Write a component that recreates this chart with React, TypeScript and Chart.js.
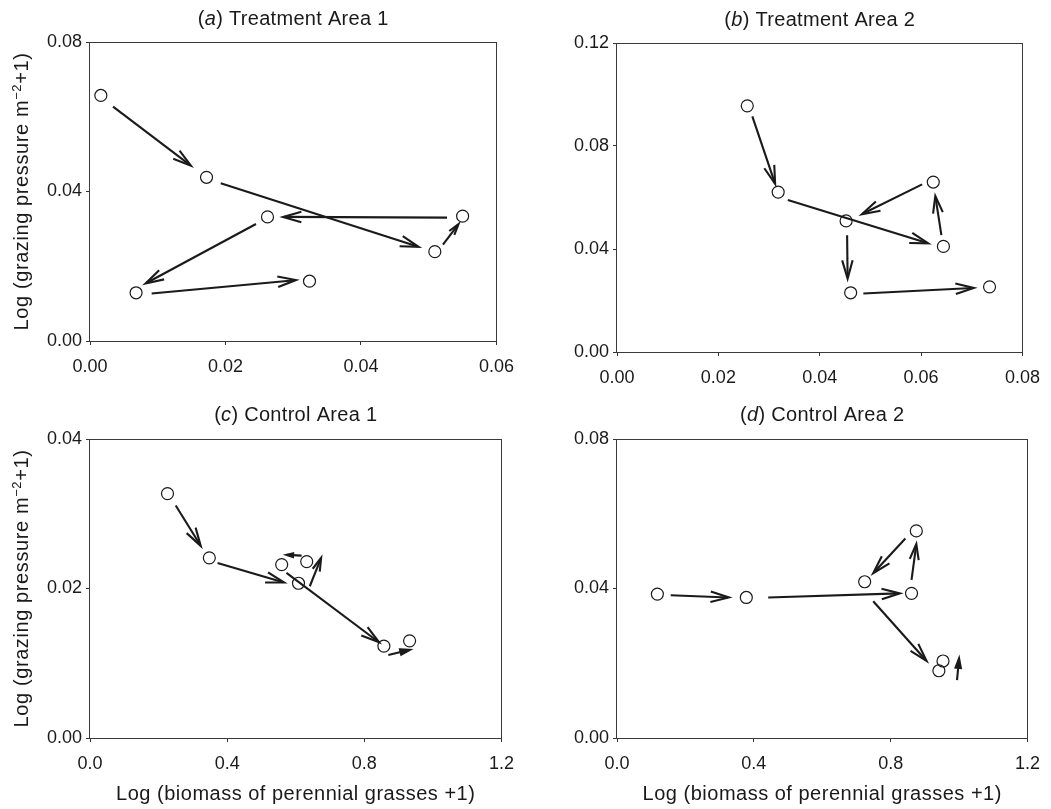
import React, { useEffect, useRef } from "react";
import { Chart, registerables } from "chart.js";

Chart.register(...registerables);

// ---------- Data ----------
// (a) Treatment Area 1
const aPointsX = [0.0016, 0.0172, 0.0509, 0.055, 0.0262, 0.0068, 0.0324];
const aPointsY = [0.0657, 0.0438, 0.0239, 0.0334, 0.0332, 0.0129, 0.016];
const aArrows = [
  [0.0034, 0.0627, 0.0149, 0.0469],
  [0.0193, 0.0422, 0.0485, 0.0252],
  [0.0521, 0.0258, 0.0544, 0.0313],
  [0.0527, 0.033, 0.0285, 0.0332],
  [0.0245, 0.0313, 0.0082, 0.0154],
  [0.0091, 0.0127, 0.0304, 0.0163],
];
const aXTicks = [0, 0.02, 0.04, 0.06];
const aYTicks = [0, 0.04, 0.08];

// (b) Treatment Area 2
const bPointsX = [0.0257, 0.0318, 0.0452, 0.0644, 0.0624, 0.0461, 0.0735];
const bPointsY = [0.0956, 0.0621, 0.0509, 0.041, 0.066, 0.023, 0.0253];
const bArrows = [
  [0.0267, 0.0915, 0.0312, 0.0653],
  [0.0337, 0.059, 0.0614, 0.0422],
  [0.064, 0.0454, 0.0628, 0.0606],
  [0.0602, 0.0651, 0.0483, 0.0535],
  [0.0454, 0.0453, 0.0455, 0.0285],
  [0.0486, 0.0227, 0.0704, 0.0249],
];
const bXTicks = [0, 0.02, 0.04, 0.06, 0.08];
const bYTicks = [0, 0.04, 0.08, 0.12];

// (c) Control Area 1
const cPointsX = [0.226, 0.348, 0.559, 0.632, 0.608, 0.857, 0.932];
const cPointsY = [0.0327, 0.0241, 0.0232, 0.0236, 0.0207, 0.0123, 0.013];
const cArrows = [
  [0.25, 0.0311, 0.323, 0.0257],
  [0.372, 0.0234, 0.566, 0.0208],
  [0.641, 0.0203, 0.674, 0.0241],
  [0.617, 0.0244, 0.573, 0.0245],
  [0.573, 0.0221, 0.843, 0.0128],
  [0.87, 0.0111, 0.933, 0.0118],
];
const cXTicks = [0, 0.4, 0.8, 1.2];
const cYTicks = [0, 0.02, 0.04];

// (d) Control Area 2
const dPointsX = [0.118, 0.378, 0.724, 0.861, 0.875, 0.941, 0.953];
const dPointsY = [0.0385, 0.0376, 0.0418, 0.0387, 0.0554, 0.018, 0.0206];
const dArrows = [
  [0.157, 0.0382, 0.327, 0.0376],
  [0.442, 0.0376, 0.827, 0.0387],
  [0.861, 0.0423, 0.875, 0.0519],
  [0.843, 0.0534, 0.749, 0.0441],
  [0.749, 0.0366, 0.905, 0.0206],
  [0.994, 0.0155, 1.0, 0.0213],
];
const dXTicks = [0, 0.4, 0.8, 1.2];
const dYTicks = [0, 0.04, 0.08];

const xAxisTitle = "Log (biomass of perennial grasses +1)";
const yAxisTitleMain = "Log (grazing pressure m";
const yAxisTitleSup = "\u22122";
const yAxisTitleEnd = "+1)";

// ---------- Style ----------
const FONT = "'Liberation Sans', Arial, Helvetica, sans-serif";
const INK = "#1a1a1a";

type PanelProps = {
  left: number;
  top: number;
  width: number;
  height: number;
  area: { left: number; top: number; right: number; bottom: number };
  letter: string;
  titleRest: string;
  titleBaseline: number;
  xs: number[];
  ys: number[];
  arrows: number[][];
  xTicks: number[];
  yTicks: number[];
  xDec: number;
  yDec: number;
  showXTitle: boolean;
  showYTitle: boolean;
};

function drawArrow(ctx: CanvasRenderingContext2D, x1: number, y1: number, x2: number, y2: number) {
  const dx = x2 - x1;
  const dy = y2 - y1;
  const len = Math.hypot(dx, dy);
  const ux = dx / len;
  const uy = dy / len;
  const head = Math.min(19, len * 0.45);
  const ang = (16 * Math.PI) / 180;
  const cos = Math.cos(ang);
  const sin = Math.sin(ang);
  // back direction rotated
  const bx = -ux;
  const by = -uy;
  const a1x = x2 + head * (bx * cos - by * sin);
  const a1y = y2 + head * (bx * sin + by * cos);
  const a2x = x2 + head * (bx * cos + by * sin);
  const a2y = y2 + head * (-bx * sin + by * cos);
  ctx.beginPath();
  ctx.moveTo(x1, y1);
  ctx.lineTo(x2 - ux * 1, y2 - uy * 1);
  ctx.stroke();
  ctx.beginPath();
  ctx.moveTo(a1x, a1y);
  ctx.lineTo(x2, y2);
  ctx.lineTo(a2x, a2y);
  if (len < 24) {
    ctx.closePath();
    ctx.fill();
  }
  ctx.stroke();
}

function Panel(p: PanelProps) {
  const ref = useRef<HTMLCanvasElement>(null);
  useEffect(() => {
    if (!ref.current) return;

    const framePlugin = {
      id: "frame",
      afterDraw(chart: any) {
        const { ctx, chartArea } = chart;
        ctx.save();
        ctx.strokeStyle = "#3a3a3a";
        ctx.lineWidth = 1;
        ctx.strokeRect(
          Math.round(chartArea.left) - 0.5,
          Math.round(chartArea.top) + 0.5,
          Math.round(chartArea.right - chartArea.left) + 1,
          Math.round(chartArea.bottom - chartArea.top)
        );
        ctx.restore();
      },
    };

    const arrowPlugin = {
      id: "arrows",
      afterDatasetsDraw(chart: any) {
        const { ctx } = chart;
        const sx = chart.scales.x;
        const sy = chart.scales.y;
        ctx.save();
        ctx.strokeStyle = INK;
        ctx.fillStyle = INK;
        ctx.lineWidth = 2.1;
        ctx.lineCap = "butt";
        ctx.lineJoin = "miter";
        ctx.miterLimit = 10;
        for (const a of p.arrows) {
          drawArrow(
            ctx,
            sx.getPixelForValue(a[0]),
            sy.getPixelForValue(a[1]),
            sx.getPixelForValue(a[2]),
            sy.getPixelForValue(a[3])
          );
        }
        ctx.restore();
      },
    };

    const textPlugin = {
      id: "texts",
      afterDraw(chart: any) {
        const { ctx, chartArea } = chart;
        const cx = (chartArea.left + chartArea.right) / 2;
        ctx.save();
        ctx.fillStyle = INK;
        ctx.textBaseline = "alphabetic";
        ctx.textAlign = "left";
        // panel title with italic letter
        const normal = `20px ${FONT}`;
        const italic = `italic 20px ${FONT}`;
        (ctx as any).letterSpacing = "0.3px";
        ctx.font = normal;
        const w1 = ctx.measureText("(").width;
        ctx.font = italic;
        const w2 = ctx.measureText(p.letter).width;
        ctx.font = normal;
        const w3 = ctx.measureText(p.titleRest).width;
        let x = cx - (w1 + w2 + w3) / 2;
        ctx.fillText("(", x, p.titleBaseline);
        x += w1;
        ctx.font = italic;
        ctx.fillText(p.letter, x, p.titleBaseline);
        x += w2;
        ctx.font = normal;
        ctx.fillText(p.titleRest, x, p.titleBaseline);

        if (p.showXTitle) {
          (ctx as any).letterSpacing = "0.5px";
          ctx.font = normal;
          ctx.textAlign = "center";
          ctx.fillText(xAxisTitle, cx, 400);
          ctx.textAlign = "left";
        }
        if (p.showYTitle) {
          const cy = (chartArea.top + chartArea.bottom) / 2;
          ctx.translate(28, cy);
          ctx.rotate(-Math.PI / 2);
          (ctx as any).letterSpacing = "0.6px";
          const sup = `13px ${FONT}`;
          ctx.font = normal;
          const m1 = ctx.measureText(yAxisTitleMain).width;
          ctx.font = sup;
          const m2 = ctx.measureText(yAxisTitleSup).width;
          ctx.font = normal;
          const m3 = ctx.measureText(yAxisTitleEnd).width;
          let tx = -(m1 + m2 + m3) / 2;
          ctx.fillText(yAxisTitleMain, tx, 0);
          tx += m1;
          ctx.font = sup;
          ctx.fillText(yAxisTitleSup, tx, -7);
          tx += m2;
          ctx.font = normal;
          ctx.fillText(yAxisTitleEnd, tx, 0);
        }
        ctx.restore();
      },
    };

    const chart = new Chart(ref.current, {
      type: "scatter",
      data: {
        datasets: [
          {
            data: p.xs.map((x, i) => ({ x, y: p.ys[i] })),
            pointRadius: 6,
            pointHoverRadius: 6,
            pointBorderWidth: 1.2,
            pointBorderColor: INK,
            pointBackgroundColor: "rgba(255,255,255,0)",
            showLine: false,
          },
        ],
      },
      options: {
        responsive: false,
        animation: false,
        events: [],
        layout: {
          padding: {
            left: 0,
            top: p.area.top,
            right: p.width - p.area.right,
            bottom: 0,
          },
        },
        plugins: {
          legend: { display: false },
          tooltip: { enabled: false },
          title: { display: false },
        },
        scales: {
          x: {
            type: "linear",
            min: p.xTicks[0],
            max: p.xTicks[p.xTicks.length - 1],
            afterBuildTicks: (s: any) => {
              s.ticks = p.xTicks.map((v) => ({ value: v }));
            },
            afterFit: (s: any) => {
              s.height = p.height - p.area.bottom;
            },
            ticks: {
              callback: (v: any) => Number(v).toFixed(p.xDec),
              color: INK,
              font: { family: FONT, size: 18 },
              padding: 11,
              maxRotation: 0,
              autoSkip: false,
            },
            grid: { drawOnChartArea: false, tickLength: 4, color: "#333" },
            border: { display: false },
          },
          y: {
            type: "linear",
            min: p.yTicks[0],
            max: p.yTicks[p.yTicks.length - 1],
            afterBuildTicks: (s: any) => {
              s.ticks = p.yTicks.map((v) => ({ value: v }));
            },
            afterFit: (s: any) => {
              s.width = p.area.left;
            },
            ticks: {
              callback: (v: any) => Number(v).toFixed(p.yDec),
              color: INK,
              font: { family: FONT, size: 18 },
              padding: 4,
              autoSkip: false,
            },
            grid: { drawOnChartArea: false, tickLength: 4, color: "#333" },
            border: { display: false },
          },
        },
      } as any,
      plugins: [framePlugin, arrowPlugin, textPlugin],
    });
    return () => chart.destroy();
  }, []);

  return (
    <canvas
      ref={ref}
      width={p.width}
      height={p.height}
      style={{ position: "absolute", left: p.left, top: p.top, width: p.width, height: p.height }}
    />
  );
}

export default function App() {
  return (
    <div style={{ position: "absolute", left: 0, top: 0, width: 1051, height: 809, background: "#fff" }}>
      <Panel
        left={0}
        top={0}
        width={525}
        height={400}
        area={{ left: 90, top: 42, right: 503, bottom: 341 }}
        letter="a"
        titleRest=") Treatment Area 1"
        titleBaseline={25}
        xs={aPointsX}
        ys={aPointsY}
        arrows={aArrows}
        xTicks={aXTicks}
        yTicks={aYTicks}
        xDec={2}
        yDec={2}
        showXTitle={false}
        showYTitle={true}
      />
      <Panel
        left={525}
        top={0}
        width={526}
        height={400}
        area={{ left: 92, top: 43, right: 503, bottom: 352 }}
        letter="b"
        titleRest=") Treatment Area 2"
        titleBaseline={26}
        xs={bPointsX}
        ys={bPointsY}
        arrows={bArrows}
        xTicks={bXTicks}
        yTicks={bYTicks}
        xDec={2}
        yDec={2}
        showXTitle={false}
        showYTitle={false}
      />
      <Panel
        left={0}
        top={400}
        width={525}
        height={409}
        area={{ left: 90, top: 39, right: 503, bottom: 338 }}
        letter="c"
        titleRest=") Control Area 1"
        titleBaseline={21}
        xs={cPointsX}
        ys={cPointsY}
        arrows={cArrows}
        xTicks={cXTicks}
        yTicks={cYTicks}
        xDec={1}
        yDec={2}
        showXTitle={true}
        showYTitle={true}
      />
      <Panel
        left={525}
        top={400}
        width={526}
        height={409}
        area={{ left: 92, top: 39, right: 503, bottom: 338 }}
        letter="d"
        titleRest=") Control Area 2"
        titleBaseline={21}
        xs={dPointsX}
        ys={dPointsY}
        arrows={dArrows}
        xTicks={dXTicks}
        yTicks={dYTicks}
        xDec={1}
        yDec={2}
        showXTitle={true}
        showYTitle={false}
      />
    </div>
  );
}
